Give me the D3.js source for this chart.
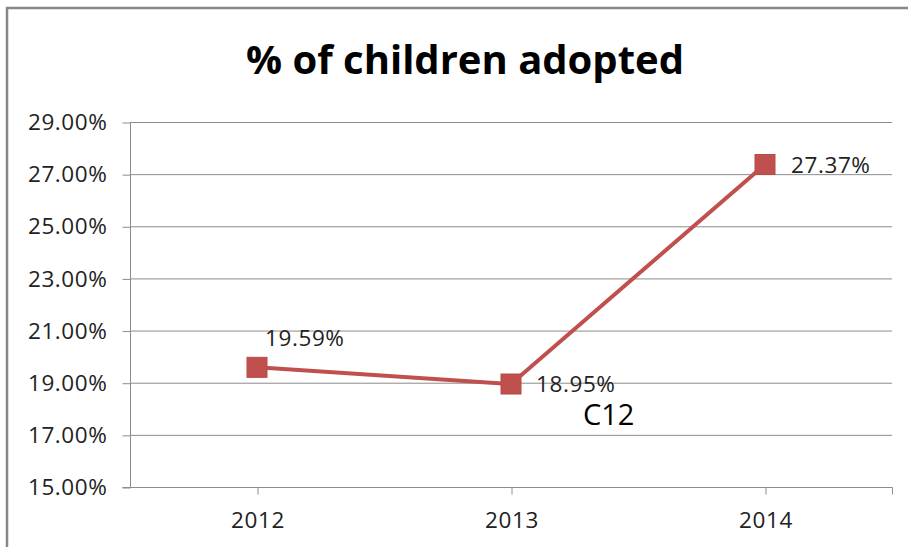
<!DOCTYPE html>
<html>
<head>
<meta charset="utf-8">
<script src="https://cdn.jsdelivr.net/npm/d3@7"></script>
<style>
  html, body { margin: 0; padding: 0; background: #fff; }
  svg { display: block; }
  text { font-family: "Open Sans", sans-serif; }
</style>
</head>
<body>
<svg id="chart" width="908" height="547"></svg>
<script>
const title = "% of children adopted";
const categories = ["2012", "2013", "2014"];
const values = [19.59, 18.95, 27.37];
const yTicks = [15, 17, 19, 21, 23, 25, 27, 29];
const extraText = "C12";

const svg = d3.select("#chart");
const W = 908, H = 547;
const margin = { left: 130, right: 16, top: 122, bottom: 60 };
const x0 = margin.left, x1 = W - margin.right; // 130..892
const yTop = 122, yBot = 487;
const labelSize = 22.5, labelSpacing = 0.6;

svg.append("rect").attr("width", W).attr("height", H).attr("fill", "#fff");
// outer chart border (top and left visible)
svg.append("path")
  .attr("d", `M7,${H + 5} L7,8 L${W + 5},8`)
  .attr("fill", "none").attr("stroke", "#888").attr("stroke-width", 2.5);

svg.append("text")
  .attr("x", 465).attr("y", 74)
  .attr("text-anchor", "middle")
  .attr("font-size", 40).attr("font-weight", 700)
  .attr("fill", "#000")
  .text(title);

const x = d3.scaleBand().domain(categories).range([x0, x1]).paddingInner(0).paddingOuter(0);
const y = d3.scaleLinear().domain([15, 29]).range([yBot, yTop]);

// gridlines
svg.append("g").selectAll("line").data(yTicks.filter(t => t !== 15)).join("line")
  .attr("x1", x0).attr("x2", x1)
  .attr("y1", d => y(d) + 0.5).attr("y2", d => y(d) + 0.5)
  .attr("stroke", "#8c8c8c").attr("stroke-width", 1);

// y axis
const yAxis = d3.axisLeft(y).tickValues(yTicks)
  .tickFormat(d => d.toFixed(2) + "%").tickSize(8).tickPadding(15);
const gy = svg.append("g").attr("transform", `translate(${x0 + 0.5},0.5)`).call(yAxis);
gy.select(".domain").attr("stroke", "#8c8c8c").attr("d", `M-8,${yBot}H0V${yTop}`);
gy.selectAll(".tick line").attr("stroke", "#8c8c8c");
gy.selectAll(".tick text").attr("font-size", labelSize).attr("fill", "#222")
  .attr("font-family", "Open Sans, sans-serif").attr("letter-spacing", labelSpacing);

// x axis
const xc = d => x(d) + x.bandwidth() / 2;
const xAxisScale = d3.scalePoint().domain(categories).range([xc(categories[0]), xc(categories[2])]);
const xAxis = d3.axisBottom(xAxisScale).tickSize(7).tickPadding(18).tickSizeOuter(0);
const gx = svg.append("g").attr("transform", `translate(0.5,${yBot + 0.5})`).call(xAxis);
gx.select(".domain").attr("stroke", "#8c8c8c").attr("d", `M${x0},0H${x1}V7`);
gx.selectAll(".tick line").attr("stroke", "#8c8c8c");
gx.selectAll(".tick text").attr("font-size", labelSize).attr("fill", "#222")
  .attr("font-family", "Open Sans, sans-serif").attr("letter-spacing", labelSpacing);

// line
const pts = categories.map((c, i) => ({ c, v: values[i] }));
svg.append("path").datum(pts)
  .attr("d", d3.line().x(d => xc(d.c)).y(d => y(d.v)))
  .attr("fill", "none").attr("stroke", "#C0504D").attr("stroke-width", 4);

const ms = 20;
svg.append("g").selectAll("rect").data(pts).join("rect")
  .attr("x", d => xc(d.c) - ms / 2).attr("y", d => y(d.v) - ms / 2)
  .attr("width", ms).attr("height", ms)
  .attr("fill", "#C0504D").attr("stroke", "#B84A47").attr("stroke-width", 1);

// data labels
const labelOff = [{ dx: 8, dy: -29 }, { dx: 25, dy: 0 }, { dx: 26, dy: 0 }];
svg.append("g").selectAll("text").data(pts).join("text")
  .attr("x", (d, i) => xc(d.c) + labelOff[i].dx)
  .attr("y", (d, i) => y(d.v) + labelOff[i].dy)
  .attr("dy", "0.36em")
  .attr("font-size", labelSize).attr("fill", "#222").attr("letter-spacing", labelSpacing)
  .text(d => d.v.toFixed(2) + "%");

svg.append("text")
  .attr("x", 583).attr("y", 425)
  .attr("font-family", "Roboto, sans-serif")
  .attr("font-size", 29).attr("fill", "#000")
  .text(extraText);
</script>
</body>
</html>
